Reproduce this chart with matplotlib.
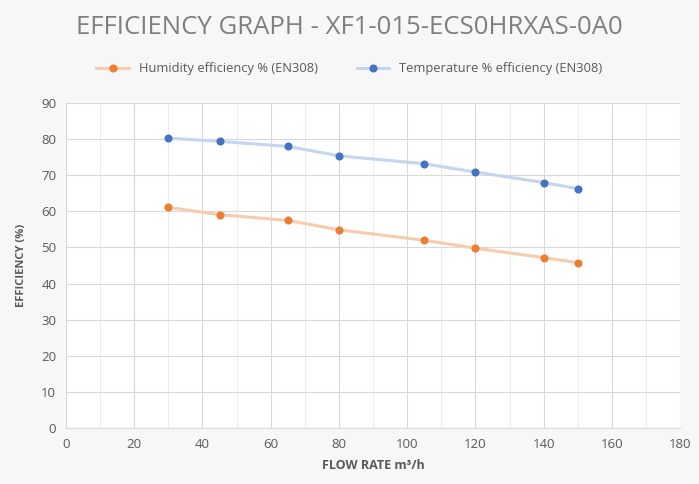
import matplotlib
matplotlib.use("Agg")
import matplotlib.pyplot as plt
from matplotlib.ticker import MultipleLocator

flow = [30, 45, 65, 80, 105, 120, 140, 150]
humidity = [61.1, 59.1, 57.5, 54.9, 52.0, 49.8, 47.2, 45.8]
temperature = [80.3, 79.4, 78.0, 75.4, 73.2, 70.9, 68.0, 66.3]

plt.rcParams['font.family'] = ['Open Sans', 'DejaVu Sans']

fig = plt.figure(figsize=(6.99, 4.84), dpi=100, facecolor='#f7f7f7')
ax = fig.add_axes([0.0944, 0.1157, 0.8786, 0.6713])
ax.set_facecolor('#ffffff')

ax.plot(flow, humidity, color='#f8cbad', lw=2.2, marker='o', ms=4.8,
        mfc='#ed7d31', mec='#ed7d31', label='Humidity efficiency % (EN308)', zorder=3)
ax.plot(flow, temperature, color='#c5d5ee', lw=2.2, marker='o', ms=4.8,
        mfc='#4472c4', mec='#4472c4', label='Temperature % efficiency (EN308)', zorder=3)

ax.set_xlim(0, 180)
ax.set_ylim(0, 90)
ax.xaxis.set_major_locator(MultipleLocator(20))
ax.xaxis.set_minor_locator(MultipleLocator(10))
ax.yaxis.set_major_locator(MultipleLocator(10))
ax.grid(which='major', color='#d9d9d9', lw=0.8)
ax.grid(which='minor', axis='x', color='#ececec', lw=0.7)
ax.set_axisbelow(True)
for s in ['top', 'right', 'left']:
    ax.spines[s].set_visible(False)
ax.spines['bottom'].set_color('#d9d9d9')
ax.tick_params(which='both', length=0, colors='#595959', labelsize=9.5, pad=7)

ax.set_xlabel('FLOW RATE m³/h', fontsize=9, fontweight='bold', color='#595959', labelpad=6)
ax.set_ylabel('EFFICIENCY (%)', fontsize=8, fontweight='bold', color='#595959', labelpad=10)

fig.text(0.5, 0.943, 'EFFICIENCY GRAPH - XF1-015-ECS0HRXAS-0A0', ha='center', va='center',
         fontsize=18.5, color='#7f7f7f')
fig.legend(loc='center', bbox_to_anchor=(0.5, 0.858), ncol=2, frameon=False,
           fontsize=9.3, labelcolor='#595959', columnspacing=3.0, handlelength=2.5)

fig.savefig('out.png', dpi=100, facecolor=fig.get_facecolor())
